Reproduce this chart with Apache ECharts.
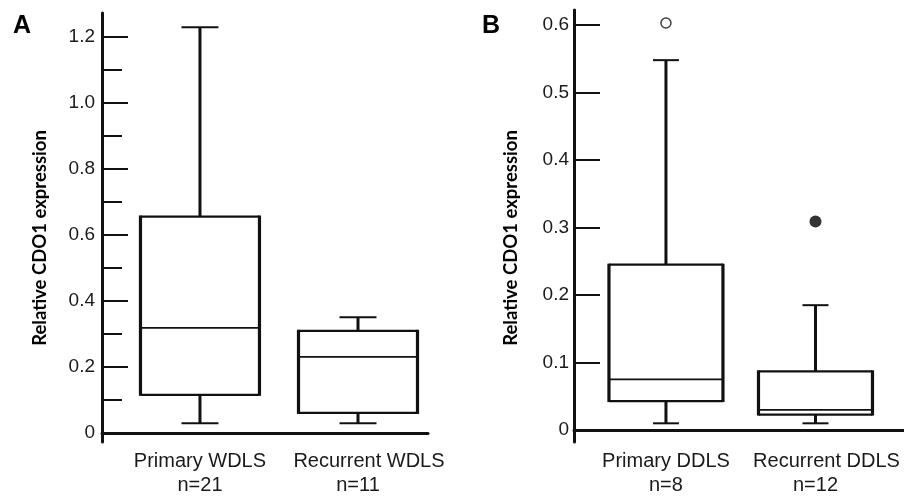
<!DOCTYPE html>
<html>
<head>
<meta charset="utf-8">
<script src="https://cdn.jsdelivr.net/npm/echarts@6/dist/echarts.min.js"></script>
<style>
  html, body { margin: 0; padding: 0; background: #fff; }
  #chart { width: 904px; height: 497px; }
</style>
</head>
<body>
<div id="chart"></div>
<script>
// panel A - WDLS
var namesA = ['Primary WDLS', 'Recurrent WDLS'];
var countsA = [21, 11];
// [min, q1, median, q3, max]
var statsA = [
    [0.029, 0.115, 0.318, 0.655, 1.229],
    [0.029, 0.060, 0.230, 0.309, 0.350]
];
var ticksA = [0, 0.2, 0.4, 0.6, 0.8, 1.0, 1.2];
var minorA = [0.1, 0.3, 0.5, 0.7, 0.9, 1.1];

// panel B - DDLS
var namesB = ['Primary DDLS', 'Recurrent DDLS'];
var countsB = [8, 12];
var statsB = [
    [0.010, 0.043, 0.075, 0.245, 0.548],
    [0.010, 0.023, 0.030, 0.087, 0.185]
];
var openOutB = [[1, 0.603]];
var filledOutB = [[2, 0.309]];
var ticksB = [0, 0.1, 0.2, 0.3, 0.4, 0.5, 0.6];

var positions = [1, 2];
var ink = '#111';
var labelFont = 'Liberation Sans';

function toRows(stats) {
    return stats.map(function (s, i) {
        return [positions[i]].concat(s);
    });
}

function boxRender(boxW, capW) {
    return function (params, api) {
        var x = api.value(0);
        var pMin = api.coord([x, api.value(1)]);
        var pQ1 = api.coord([x, api.value(2)]);
        var pMed = api.coord([x, api.value(3)]);
        var pQ3 = api.coord([x, api.value(4)]);
        var pMax = api.coord([x, api.value(5)]);
        var cx = pMin[0];
        var l = cx - boxW / 2, r = cx + boxW / 2;
        function ln(x1, y1, x2, y2, w) {
            return { type: 'line', shape: { x1: x1, y1: y1, x2: x2, y2: y2 }, style: { stroke: ink, lineWidth: w } };
        }
        return {
            type: 'group',
            children: [
                ln(cx, pQ3[1], cx, pMax[1], 3),
                ln(cx, pQ1[1], cx, pMin[1], 3),
                ln(cx - capW / 2, pMax[1], cx + capW / 2, pMax[1], 2),
                ln(cx - capW / 2, pMin[1], cx + capW / 2, pMin[1], 2),
                { type: 'rect', shape: { x: l, y: pQ3[1], width: boxW, height: pQ1[1] - pQ3[1] }, style: { fill: '#fff', stroke: null } },
                ln(l, pQ3[1], r, pQ3[1], 2.2),
                ln(l, pQ1[1], r, pQ1[1], 2.2),
                ln(l, pQ3[1] - 1, l, pQ1[1] + 1, 3.2),
                ln(r, pQ3[1] - 1, r, pQ1[1] + 1, 3.2),
                ln(l, pMed[1], r, pMed[1], 1.8)
            ]
        };
    };
}

function xAxisFor(idx, names, counts, min, max) {
    return {
        type: 'value', gridIndex: idx, min: min, max: max,
        splitLine: { show: false },
        axisLine: { show: true, lineStyle: { color: ink, width: 3 } },
        axisTick: { show: false },
        axisLabel: {
            customValues: positions,
            margin: 7,
            fontFamily: labelFont, fontSize: 20, lineHeight: 24, color: '#1a1a1a',
            align: 'center',
            // the "Recurrent" heading sits a little right of its box in the original
            rich: {
                p: { fontFamily: labelFont, fontSize: 20, lineHeight: 24, color: '#1a1a1a' },
                r: { fontFamily: labelFont, fontSize: 20, lineHeight: 24, color: '#1a1a1a', padding: [0, 0, 0, 22] },
                n: { fontFamily: labelFont, fontSize: 20, lineHeight: 24, color: '#1a1a1a' }
            },
            formatter: function (v) {
                var i = Math.round(v) - 1;
                return '{' + (i === 0 ? 'p' : 'r') + '|' + names[i] + '}\n{n|n=' + counts[i] + '}';
            }
        }
    };
}

function yAxisFor(idx, min, max, ticks, len, margin) {
    return {
        type: 'value', gridIndex: idx, min: min, max: max, position: 'left',
        splitLine: { show: false },
        axisLine: { show: true, lineStyle: { color: ink, width: 3 } },
        axisTick: { show: true, inside: true, length: len, customValues: ticks, lineStyle: { color: ink, width: 2 } },
        axisLabel: {
            customValues: ticks, margin: margin,
            fontFamily: labelFont, fontSize: 19, color: '#1a1a1a',
            formatter: function (v) { return v === 0 ? '0' : v.toFixed(1); }
        }
    };
}

var chart = echarts.init(document.getElementById('chart'));

var minorAxis = {
    type: 'value', gridIndex: 0, min: -0.028, max: 1.272, position: 'left',
    splitLine: { show: false },
    axisLine: { show: false },
    axisTick: { show: true, inside: true, length: 20, customValues: minorA, lineStyle: { color: ink, width: 2 } },
    axisLabel: { show: false }
};

var option = {
    backgroundColor: '#fff',
    animation: false,
    grid: [
        { left: 102, top: 13, width: 326, height: 430 },
        { left: 574, top: 10, width: 330, height: 433 }
    ],
    xAxis: [
        xAxisFor(0, namesA, countsA, 0.38, 2.443),
        xAxisFor(1, namesB, countsB, 0.385, 2.592)
    ],
    yAxis: [
        yAxisFor(0, -0.028, 1.272, ticksA, 26, 7),
        yAxisFor(1, -0.0177, 0.6223, ticksB, 26, 5),
        minorAxis
    ],
    graphic: [
        { type: 'text', x: 13, y: 14, style: { text: 'A', font: 'bold 25px "Liberation Sans"', fill: '#000' } },
        { type: 'text', x: 482, y: 14, style: { text: 'B', font: 'bold 25px "Liberation Sans"', fill: '#000' } },
        { type: 'text', x: 40, y: 238, rotation: Math.PI / 2,
          style: { text: 'Relative CDO1 expression', font: 'bold 18.5px Lato', fill: '#000', align: 'center', verticalAlign: 'middle' } },
        { type: 'text', x: 511, y: 238, rotation: Math.PI / 2,
          style: { text: 'Relative CDO1 expression', font: 'bold 18.5px Lato', fill: '#000', align: 'center', verticalAlign: 'middle' } }
    ],
    series: [
        {
            type: 'custom', xAxisIndex: 0, yAxisIndex: 0,
            renderItem: boxRender(119, 37),
            encode: { x: 0, y: [1, 2, 3, 4, 5] },
            data: toRows(statsA), clip: false
        },
        {
            type: 'custom', xAxisIndex: 1, yAxisIndex: 1,
            renderItem: boxRender(114, 26),
            encode: { x: 0, y: [1, 2, 3, 4, 5] },
            data: toRows(statsB), clip: false
        },
        {
            type: 'scatter', xAxisIndex: 1, yAxisIndex: 1,
            symbol: 'circle', symbolSize: 10,
            itemStyle: { color: '#fff', borderColor: ink, borderWidth: 1.5 },
            data: openOutB
        },
        {
            type: 'scatter', xAxisIndex: 1, yAxisIndex: 1,
            symbol: 'circle', symbolSize: 12,
            itemStyle: { color: '#000' },
            data: filledOutB
        }
    ]
};

chart.setOption(option);
</script>
</body>
</html>
